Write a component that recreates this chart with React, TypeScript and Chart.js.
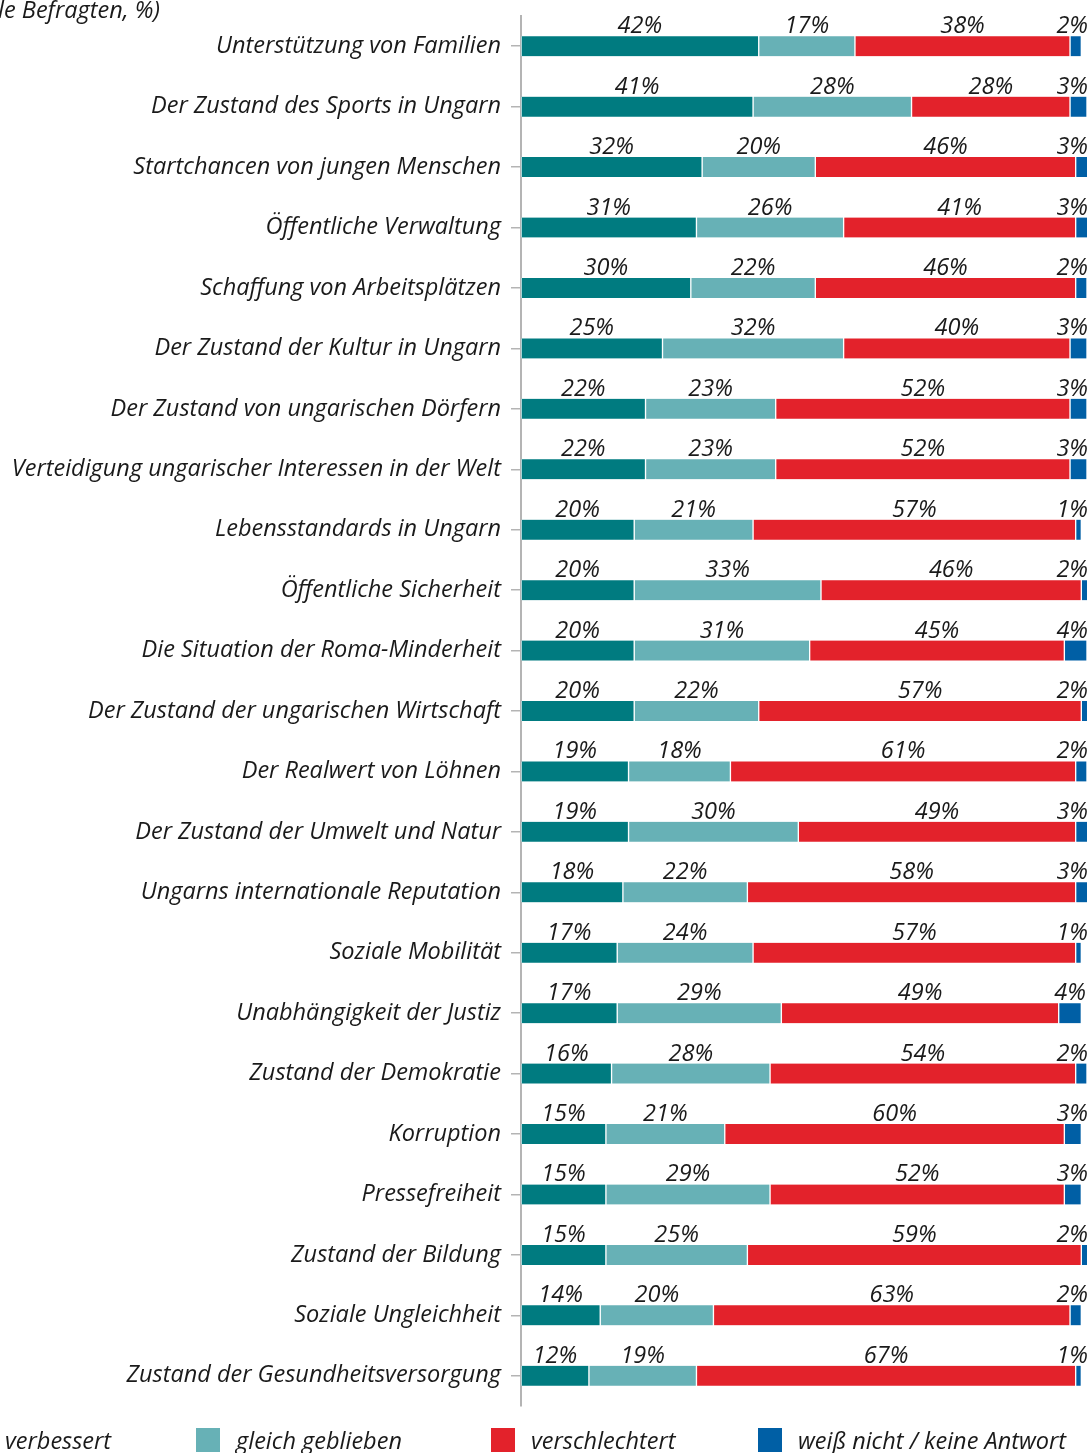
import React, { useEffect, useRef } from "react";
import { Chart, registerables } from "chart.js";

Chart.register(...registerables);

const categories = [
  "Unterstützung von Familien",
  "Der Zustand des Sports in Ungarn",
  "Startchancen von jungen Menschen",
  "Öffentliche Verwaltung",
  "Schaffung von Arbeitsplätzen",
  "Der Zustand der Kultur in Ungarn",
  "Der Zustand von ungarischen Dörfern",
  "Verteidigung ungarischer Interessen in der Welt",
  "Lebensstandards in Ungarn",
  "Öffentliche Sicherheit",
  "Die Situation der Roma-Minderheit",
  "Der Zustand der ungarischen Wirtschaft",
  "Der Realwert von Löhnen",
  "Der Zustand der Umwelt und Natur",
  "Ungarns internationale Reputation",
  "Soziale Mobilität",
  "Unabhängigkeit der Justiz",
  "Zustand der Demokratie",
  "Korruption",
  "Pressefreiheit",
  "Zustand der Bildung",
  "Soziale Ungleichheit",
  "Zustand der Gesundheitsversorgung",
];

const improved = [42, 41, 32, 31, 30, 25, 22, 22, 20, 20, 20, 20, 19, 19, 18, 17, 17, 16, 15, 15, 15, 14, 12];
const unchanged = [17, 28, 20, 26, 22, 32, 23, 23, 21, 33, 31, 22, 18, 30, 22, 24, 29, 28, 21, 29, 25, 20, 19];
const worsened = [38, 28, 46, 41, 46, 40, 52, 52, 57, 46, 45, 57, 61, 49, 58, 57, 49, 54, 60, 52, 59, 63, 67];
const dontKnow = [2, 3, 3, 3, 2, 3, 3, 3, 1, 2, 4, 2, 2, 3, 3, 1, 4, 2, 3, 3, 2, 2, 1];

const seriesNames = ["verbessert", "gleich geblieben", "verschlechtert", "weiß nicht / keine Antwort"];
const seriesColors = ["#007B80", "#67B1B6", "#E3222B", "#005FA5"];
const titleText = "(alle Befragten, %)";

const FONT_FAMILY = "'Open Sans', Lato, sans-serif";
const FONT_SIZE = 23.5;
const SHIFT = 40; // canvas begins this many px left of the page edge

const valueLabels = {
  id: "valueLabels",
  afterDatasetsDraw(chart: any) {
    const ctx = chart.ctx;
    ctx.save();
    ctx.font = `italic ${FONT_SIZE}px ${FONT_FAMILY}`;
    ctx.fillStyle = "#1a1a1a";
    ctx.textAlign = "center";
    ctx.textBaseline = "alphabetic";
    const right = chart.chartArea.right;
    chart.data.datasets.forEach((ds: any, di: number) => {
      const meta = chart.getDatasetMeta(di);
      meta.data.forEach((bar: any, i: number) => {
        const p = bar.getProps(["x", "y", "base", "height"], true);
        const text = ds.data[i] + "%";
        const w = ctx.measureText(text).width;
        let cx = (Math.min(p.x, right) + p.base) / 2;
        cx = Math.min(cx, right + 1 - w / 2);
        ctx.fillText(text, cx, p.y - p.height / 2 - 3);
      });
    });
    ctx.restore();
  },
};

const titleAndLegend = {
  id: "titleAndLegend",
  afterDraw(chart: any) {
    const ctx = chart.ctx;
    ctx.save();
    ctx.font = `italic ${FONT_SIZE}px ${FONT_FAMILY}`;
    ctx.fillStyle = "#1a1a1a";
    ctx.textBaseline = "alphabetic";
    ctx.textAlign = "right";
    ctx.fillText(titleText, 160 + SHIFT, 18);

    const boxX = [-35, 196, 491, 758];
    ctx.textAlign = "left";
    ctx.textBaseline = "alphabetic";
    chart.data.datasets.forEach((ds: any, i: number) => {
      const x = boxX[i] + SHIFT;
      ctx.fillStyle = ds.backgroundColor;
      ctx.fillRect(x, 1428, 24, 24);
      ctx.fillStyle = "#1a1a1a";
      ctx.fillText(ds.label, x + 40, 1449);
    });
    ctx.restore();
  },
};

export default function App() {
  const ref = useRef<HTMLCanvasElement>(null);

  useEffect(() => {
    const seriesData = [improved, unchanged, worsened, dontKnow];
    const chart = new Chart(ref.current as HTMLCanvasElement, {
      type: "bar",
      data: {
        labels: categories,
        datasets: seriesData.map((d, i) => ({
          label: seriesNames[i],
          data: d,
          backgroundColor: seriesColors[i],
          borderColor: "#ffffff",
          borderWidth: { left: 1, right: 1, top: 0, bottom: 0 },
          borderSkipped: false,
          barThickness: 20,
        })),
      },
      options: {
        indexAxis: "y",
        animation: false,
        responsive: true,
        maintainAspectRatio: false,
        layout: { padding: { top: 16, bottom: 47, right: 4, left: 0 } },
        plugins: {
          legend: { display: false },
          tooltip: { enabled: false },
          title: { display: false },
        },
        scales: {
          x: { stacked: true, min: 0, max: 100, display: false },
          y: {
            stacked: true,
            afterFit: (s: any) => {
              s.width = 521 + SHIFT;
              s.paddingTop = 0;
              s.paddingBottom = 0;
            },
            border: { display: true, color: "#b4b4b4", width: 2 },
            grid: {
              display: true,
              drawOnChartArea: false,
              drawTicks: true,
              tickLength: 10,
              offset: false,
              color: "#b4b4b4",
              lineWidth: 1.5,
            },
            ticks: {
              autoSkip: false,
              padding: 10,
              color: "#1a1a1a",
              font: { family: FONT_FAMILY, size: FONT_SIZE, style: "italic" },
            },
          },
        },
      },
      plugins: [valueLabels, titleAndLegend],
    } as any);
    return () => chart.destroy();
  }, []);

  return (
    <div
      style={{
        position: "fixed",
        left: 0,
        top: 0,
        width: 1091,
        height: 1453,
        overflow: "hidden",
        background: "#ffffff",
      }}
    >
      <div style={{ position: "absolute", left: -SHIFT, top: 0, width: 1091 + SHIFT, height: 1453 }}>
        <canvas ref={ref} />
      </div>
    </div>
  );
}
